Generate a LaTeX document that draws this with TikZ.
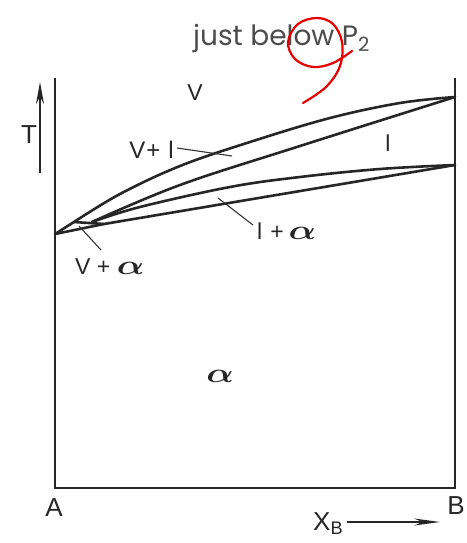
\documentclass[tikz,border=0pt]{standalone}
\usepackage{fontspec}
\usepackage{amsmath}
\usepackage{graphicx}
\setmainfont{Liberation Sans}
\newfontfamily\titlefont{Poppins}
\usetikzlibrary{arrows.meta}
\newcommand{\myalpha}{\scalebox{1.45}[1.1]{$\boldsymbol{\alpha}$}}
\begin{document}
\begin{tikzpicture}[x=1pt,y=-1pt,
  frame/.style={line width=1.8pt, draw=black!85},
  phase/.style={line width=2.6pt, draw=black!85, line join=round, line cap=round},
  leader/.style={line width=1.1pt, draw=black!80},
  lab/.style={font=\fontsize{23}{27}\selectfont, text=black!85, inner sep=0pt},
  biglab/.style={font=\fontsize{26}{30}\selectfont, text=black!85, inner sep=0pt},
  scribble/.style={line width=2.2pt, draw=red!90!black, line cap=round, line join=round}]
\useasboundingbox (0,0) rectangle (466,543);
% frame
\coordinate (TL) at (55,78);
\coordinate (BL) at (55,488);
\coordinate (BR) at (455,488);
\coordinate (TR) at (455,78);
\draw[frame] (TL) -- (BL) -- (BR) -- (TR);
% phase boundaries
\coordinate (J) at (55,234);
\coordinate (Pv) at (74,222);
\coordinate (Pl) at (92,222);
\coordinate (Pa) at (104,224);
\coordinate (Ht) at (455,97);
\coordinate (Hb) at (455,165);
\draw[phase] (J) -- (Pv) -- (Pa);
\draw[phase] (J) -- (Pa) -- (Hb);
\draw[phase] plot[smooth, tension=0.6] coordinates {(74,222) (120,194) (180,166) (250,142) (330,118) (400,103) (455,97)};
\draw[phase] plot[smooth, tension=0.6] coordinates {(92,222) (180,185) (300,146) (455,97)};
\draw[phase] plot[smooth, tension=0.6] coordinates {(92,222) (140,207) (230,187) (300,177) (380,169) (455,165)};
% labels
\node[lab] (lV) at (195,93) {V};
\node[lab, anchor=east, font=\fontsize{24}{28}\selectfont] (lVl) at (174,150) {V\kern1pt+\kern8pt l};
\node[lab] (ll) at (388,143) {l};
\node[lab, anchor=west] (llalpha) at (257,231) {l\kern8pt+\kern5pt\myalpha};
\node[lab, anchor=west] (lValpha) at (75,267) {V + \myalpha};
\node[biglab] (lalpha) at (220,376) {\myalpha};
\coordinate (a1) at (177,148); \coordinate (a2) at (232,156);
\coordinate (b1) at (218,198); \coordinate (b2) at (253,225);
\coordinate (c1) at (79,226); \coordinate (c2) at (101,250);
\draw[leader] (a1) -- (a2);
\draw[leader] (b1) -- (b2);
\draw[leader] (c1) -- (c2);
% axes
\node[biglab] (lT) at (29,135) {T};
\coordinate (Tb) at (40,173); \coordinate (Tt) at (40,82);
\draw[line width=1.2pt, draw=black!85, -{Stealth[length=22pt,width=8pt]}] (Tb) -- (Tt);
\node[biglab] (lA) at (54,508) {A};
\node[biglab] (lB) at (456,506) {B};
\node[biglab, anchor=west] (lX) at (313,524) {X$_{\text{B}}$};
\coordinate (Xs) at (347,522); \coordinate (Xe) at (440,522);
\draw[line width=1.2pt, draw=black!85, -{Stealth[length=26pt,width=7pt]}] (Xs) -- (Xe);
% title
\node[anchor=base west, inner sep=0pt, text=black!70, font=\titlefont\fontsize{28}{32}\selectfont] (title) at (193,46) {just below P$_{\text{\titlefont 2}}$};
% red scribble
\draw[scribble] plot[smooth, tension=0.6] coordinates {(352,51) (333,63) (313,67) (295,59) (288,42) (298,24) (317,18) (333,24) (342,42) (340,66) (326,87) (303,103)};
\end{tikzpicture}
\end{document}
